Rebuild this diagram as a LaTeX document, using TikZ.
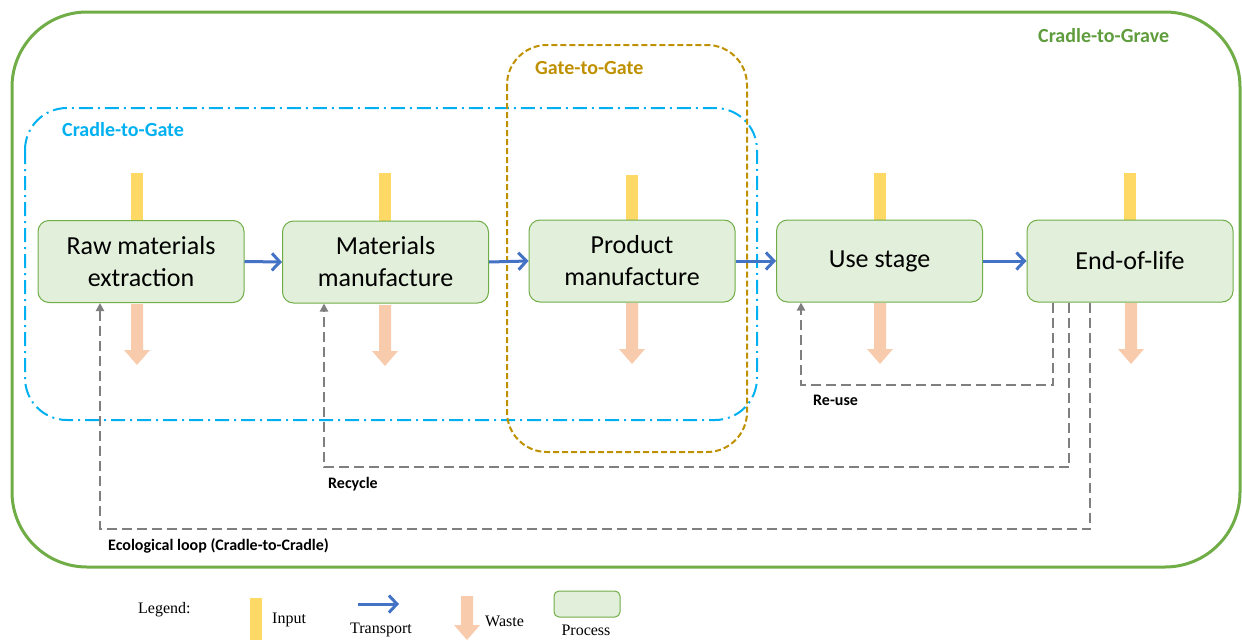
\documentclass[tikz,border=0pt]{standalone}
\usepackage{fontspec}
\setmainfont{Carlito}
\newfontfamily\legendfont{Liberation Serif}
\usetikzlibrary{arrows.meta,calc}
\definecolor{cgreen}{HTML}{70AD47}
\definecolor{cgreentext}{HTML}{5E9C3C}
\definecolor{cblue}{HTML}{00B0F0}
\definecolor{cgold}{HTML}{BF9000}
\definecolor{procfill}{HTML}{E2EFDA}
\definecolor{inputcol}{HTML}{FFD966}
\definecolor{wastecol}{HTML}{F8CBAD}
\definecolor{transcol}{HTML}{4472C4}
\definecolor{loopcol}{HTML}{7F7F7F}
\tikzset{
  process/.style={draw=cgreen, line width=1pt, fill=procfill, rounded corners=11pt,
    minimum width=206pt, minimum height=82pt, align=center, inner sep=0pt,
    font=\fontsize{26}{32}\selectfont},
  transport/.style={draw=transcol, line width=3pt, -{Straight Barb[length=8pt,width=17pt,line width=3pt]}},
  loopline/.style={draw=loopcol, line width=2.2pt, dash pattern=on 10pt off 5pt,
    -{Triangle[length=8pt,width=8pt]}},
  looplabel/.style={font=\bfseries\fontsize{16}{18}\selectfont, anchor=west, inner sep=0pt},
  scopelabel/.style={font=\bfseries\fontsize{20}{22}\selectfont, anchor=west, inner sep=0pt},
  legendtext/.style={font=\legendfont\fontsize{16}{18}\selectfont, inner sep=0pt}
}
\newcommand{\inputbar}[3]{\fill[inputcol] (#1-6,#2) rectangle (#1+6,#3);}
\newcommand{\wastearrow}[3]{\fill[wastecol] (#1-6,#2) -- (#1+6,#2) -- (#1+6,#3-15) -- (#1+13,#3-15) -- (#1,#3) -- (#1-13,#3-15) -- (#1-6,#3-15) -- cycle;}
\begin{document}
\begin{tikzpicture}[x=1pt,y=-1pt]
\useasboundingbox (0,0) rectangle (1242,640);

% scope outlines
\draw[cgreen, line width=3pt, rounded corners=75pt] (12,12) rectangle (1240,567);
\draw[cblue, line width=2pt, dash pattern=on 14pt off 5pt on 2pt off 5pt, rounded corners=42pt] (25,108) rectangle (757,420);
\draw[cgold, line width=2pt, dash pattern=on 6pt off 3pt, rounded corners=40pt] (507,45) rectangle (747,452);

\node[scopelabel, text=cgreentext] (lgrave) at (1038,36) {Cradle-to-Grave};
\node[scopelabel, text=cgold] (lgate) at (535,68) {Gate-to-Gate};
\node[scopelabel, text=cblue] (lcgate) at (62,130) {Cradle-to-Gate};

% inputs
\inputbar{137}{173}{225}
\inputbar{385}{173}{225}
\inputbar{632}{175}{225}
\inputbar{880}{173}{225}
\inputbar{1130}{173}{225}

% processes
\node[process] (b1) at (141,261.5) {Raw materials\\extraction};
\node[process] (b2) at (385.5,262) {Materials\\manufacture};
\node[process] (b3) at (632,261) {Product\\manufacture};
\node[process] (b4) at (879.5,261) {\raisebox{-3pt}{Use stage}};
\node[process] (b5) at (1130,261) {\raisebox{-1.5pt}{End-of-life}};

% wastes
\wastearrow{137}{304}{365}
\wastearrow{385}{305}{366}
\wastearrow{632}{303}{364}
\wastearrow{880}{303}{364}
\wastearrow{1131}{303}{364}

% transport
\draw[transport] (b1.east) -- (b2.west);
\draw[transport] (b2.east) -- (b3.west);
\draw[transport] (b3.east) -- (b4.west);
\draw[transport] (b4.east) -- (b5.west);

% loops
\coordinate (reA) at (1053,385);
\coordinate (reB) at (801,385);
\draw[loopline] (b5.south -| reA) -- (reA) -- (reB) -- (b4.south -| reB);
\coordinate (rcA) at (1069,467);
\coordinate (rcB) at (324,467);
\draw[loopline] (b5.south -| rcA) -- (rcA) -- (rcB) -- (b2.south -| rcB);
\coordinate (ecA) at (1090,529);
\coordinate (ecB) at (100,529);
\draw[loopline] (b5.south -| ecA) -- (ecA) -- (ecB) -- (b1.south -| ecB);

\node[looplabel] (lre) at (813,400) {Re-use};
\node[looplabel] (lrc) at (328,484) {Recycle};
\node[looplabel] (lec) at (108,546) {Ecological loop (Cradle-to-Cradle)};

% legend
\node[legendtext, anchor=west] (leg) at (138,610) {Legend:};
\inputbar{256}{598}{640}
\node[legendtext, anchor=west] (legin) at (272,620) {Input};
\coordinate (tA) at (358,604);
\coordinate (tB) at (399,604);
\draw[transport] (tA) -- (tB);
\node[legendtext] (legtr) at (381,630) {Transport};
\wastearrow{467}{596}{640}
\node[legendtext, anchor=west] (legwa) at (485,621) {Waste};
\node[process, minimum width=66pt, minimum height=26pt, rounded corners=5pt] (legbox) at (587,604) {};
\node[legendtext] (legpr) at (586,630) {Process};
\end{tikzpicture}
\end{document}
